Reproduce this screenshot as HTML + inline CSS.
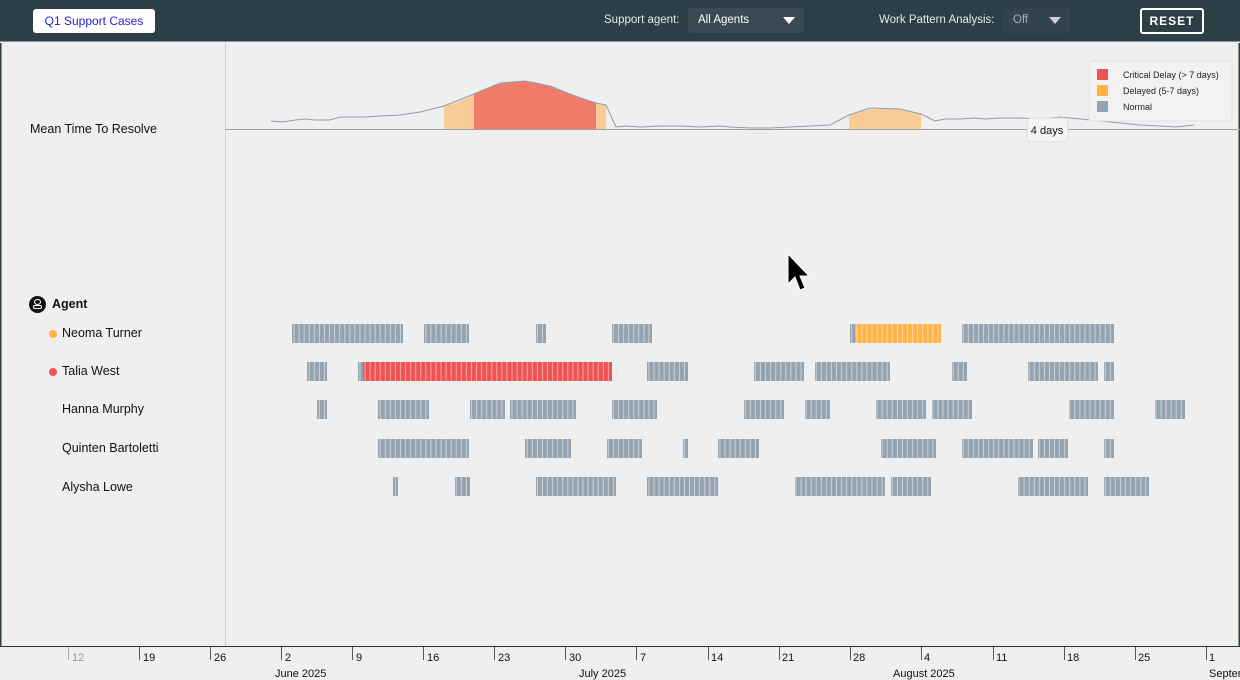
<!DOCTYPE html>
<html><head><meta charset="utf-8"><style>
*{margin:0;padding:0;box-sizing:border-box}
body{width:1240px;height:680px;overflow:hidden;background:#efefef;font-family:"Liberation Sans",sans-serif;position:relative}
.hdr{position:absolute;left:0;top:0;width:1240px;height:42px;background:#2c3e46;border-bottom:1px solid #8a979c}
.btn1{position:absolute;left:33px;top:9px;width:122px;height:24px;background:#fff;border-radius:3px;color:#2222dd;font-size:12px;text-align:center;line-height:24px}
.lbl{position:absolute;top:14px;color:#e6e9ea;font-size:11.5px}
.sel{position:absolute;top:8px;height:25px;background:#3a4a52;border-radius:3px;color:#fff;font-size:11.5px;line-height:25px;padding-left:10px}
.tri{position:absolute;top:9px;width:0;height:0;border-left:6px solid transparent;border-right:6px solid transparent;border-top:7px solid #fff}
.reset{position:absolute;left:1140px;top:8px;width:64px;height:26px;border:2px solid #fff;border-radius:3px;color:#fff;font-weight:bold;font-size:12px;text-align:center;line-height:22px;letter-spacing:1px}
.t{position:absolute;font-size:12.5px;color:#111}
.dot{position:absolute;width:8px;height:8px;border-radius:50%}
svg{position:absolute;left:0;top:0}
</style></head><body>
<div class="hdr">
<div class="btn1">Q1 Support Cases</div>
<div class="lbl" style="left:604px">Support agent:</div>
<div class="sel" style="left:688px;width:116px">All Agents<span class="tri" style="left:95px"></span></div>
<div class="lbl" style="left:879px">Work Pattern Analysis:</div>
<div class="sel" style="left:1003px;width:68px;color:#aab;background:#34444c">Off<span class="tri" style="left:46px;border-top-color:#ccd"></span></div>
<div class="reset">RESET</div>
</div>
<svg width="1240" height="680">
<defs>
<pattern id="g" patternUnits="userSpaceOnUse" width="5.07" height="40"><rect x="0" y="0" width="5.07" height="40" fill="#c8cfd5"/><rect x="0.5" y="0" width="4" height="40" fill="#94a3b0"/></pattern>
<pattern id="r" patternUnits="userSpaceOnUse" width="5.07" height="40"><rect x="0" y="0" width="5.07" height="40" fill="#f5a3a3"/><rect x="0.5" y="0" width="4" height="40" fill="#f05252"/></pattern>
<pattern id="o" patternUnits="userSpaceOnUse" width="5.07" height="40"><rect x="0" y="0" width="5.07" height="40" fill="#fdd6a0"/><rect x="0.5" y="0" width="4" height="40" fill="#ffb347"/></pattern>
</defs>
<rect x="0" y="43" width="1.5" height="603" fill="#2c3e46"/>
<rect x="1238.5" y="43" width="1.5" height="603" fill="#2c3e46"/>
<line x1="225.5" y1="43" x2="225.5" y2="646" stroke="#d0d0d0"/>
<line x1="225" y1="129.5" x2="1240" y2="129.5" stroke="#9aa3a8"/>
<path d="M444,106 C455,103 465,100 474,94 L474,129 L444,129Z" fill="#f7cc95"/>
<path d="M474,94 C495,83 510,81 525,81 C545,82 570,95 596,103 L596,129 L474,129Z" fill="#f07b68"/>
<path d="M596,103 L606,105 L606,129 L596,129Z" fill="#f7cc95"/>
<path d="M849,115 C870,108 885,107 900,109 L921,114 L921,129 L849,129Z" fill="#f7cc95"/>
<polyline fill="none" stroke="#8e9fb0" stroke-width="1" points="271,121 283,122 295,120 305,119 315,120 330,120 340,117 350,117 365,117 380,116 400,115 420,112 444,106 474,94 500,83 525,81 550,86 575,96 596,103 606,105 616,127 625,126 640,127 660,126 680,126 700,127 720,126 730,127 752,128 770,128 790,127 810,126 830,125 849,115 870,108 900,109 921,114 935,121 945,119 960,119 975,118 985,119 1000,118 1020,118 1040,119 1060,117 1080,119 1100,121 1120,123 1140,125 1160,126 1175,127 1185,126 1194,125"/>
<rect x="1089" y="61" width="143" height="60" rx="3" fill="#f2f2f2" stroke="#e2e2e2"/>
<rect x="1097" y="69" width="11" height="11" fill="#f05252"/>
<rect x="1097" y="85" width="11" height="11" fill="#ffb347"/>
<rect x="1097" y="101" width="11" height="11" fill="#94a3b0"/>
<text x="1123" y="78" font-size="9" fill="#222" font-family="Liberation Sans">Critical Delay (&gt; 7 days)</text>
<text x="1123" y="94" font-size="9" fill="#222" font-family="Liberation Sans">Delayed (5-7 days)</text>
<text x="1123" y="110" font-size="9" fill="#222" font-family="Liberation Sans">Normal</text>
<rect x="1027" y="118" width="41" height="24" rx="4" fill="#f4f4f4" stroke="#ddd"/>
<text x="1047" y="134" font-size="11" fill="#111" text-anchor="middle" font-family="Liberation Sans">4 days</text>
<path d="M788,254 L788,284 L795,277 L800,290 L805,288 L800,276 L809,276Z" fill="#000" stroke="#fff" stroke-width="1"/>
<g>
<rect x="292" y="324" width="111" height="19" fill="url(#g)"/>
<rect x="424" y="324" width="45" height="19" fill="url(#g)"/>
<rect x="536" y="324" width="10" height="19" fill="url(#g)"/>
<rect x="612" y="324" width="40" height="19" fill="url(#g)"/>
<rect x="850" y="324" width="5" height="19" fill="url(#g)"/>
<rect x="855" y="324" width="86" height="19" fill="url(#o)"/>
<rect x="962" y="324" width="152" height="19" fill="url(#g)"/>
<rect x="307" y="362" width="20" height="19" fill="url(#g)"/>
<rect x="358" y="362" width="5" height="19" fill="url(#g)"/>
<rect x="363" y="362" width="249" height="19" fill="url(#r)"/>
<rect x="647" y="362" width="41" height="19" fill="url(#g)"/>
<rect x="754" y="362" width="50" height="19" fill="url(#g)"/>
<rect x="815" y="362" width="75" height="19" fill="url(#g)"/>
<rect x="952" y="362" width="15" height="19" fill="url(#g)"/>
<rect x="1028" y="362" width="70" height="19" fill="url(#g)"/>
<rect x="1104" y="362" width="10" height="19" fill="url(#g)"/>
<rect x="317" y="400" width="10" height="19" fill="url(#g)"/>
<rect x="378" y="400" width="51" height="19" fill="url(#g)"/>
<rect x="470" y="400" width="35" height="19" fill="url(#g)"/>
<rect x="510" y="400" width="66" height="19" fill="url(#g)"/>
<rect x="612" y="400" width="45" height="19" fill="url(#g)"/>
<rect x="744" y="400" width="40" height="19" fill="url(#g)"/>
<rect x="805" y="400" width="25" height="19" fill="url(#g)"/>
<rect x="876" y="400" width="50" height="19" fill="url(#g)"/>
<rect x="932" y="400" width="40" height="19" fill="url(#g)"/>
<rect x="1069" y="400" width="45" height="19" fill="url(#g)"/>
<rect x="1155" y="400" width="30" height="19" fill="url(#g)"/>
<rect x="378" y="439" width="91" height="19" fill="url(#g)"/>
<rect x="525" y="439" width="46" height="19" fill="url(#g)"/>
<rect x="607" y="439" width="35" height="19" fill="url(#g)"/>
<rect x="683" y="439" width="5" height="19" fill="url(#g)"/>
<rect x="718" y="439" width="41" height="19" fill="url(#g)"/>
<rect x="881" y="439" width="55" height="19" fill="url(#g)"/>
<rect x="962" y="439" width="71" height="19" fill="url(#g)"/>
<rect x="1038" y="439" width="30" height="19" fill="url(#g)"/>
<rect x="1104" y="439" width="10" height="19" fill="url(#g)"/>
<rect x="393" y="477" width="5" height="19" fill="url(#g)"/>
<rect x="455" y="477" width="15" height="19" fill="url(#g)"/>
<rect x="536" y="477" width="80" height="19" fill="url(#g)"/>
<rect x="647" y="477" width="71" height="19" fill="url(#g)"/>
<rect x="795" y="477" width="90" height="19" fill="url(#g)"/>
<rect x="891" y="477" width="40" height="19" fill="url(#g)"/>
<rect x="1018" y="477" width="70" height="19" fill="url(#g)"/>
<rect x="1104" y="477" width="45" height="19" fill="url(#g)"/>
</g>
<line x1="0" y1="646.5" x2="1240" y2="646.5" stroke="#333"/>
<g stroke="#555" stroke-width="1">
<line x1="68.5" y1="647" x2="68.5" y2="660" stroke="#aaa"/>
<line x1="139.5" y1="647" x2="139.5" y2="660"/><line x1="210.5" y1="647" x2="210.5" y2="660"/>
<line x1="281.5" y1="647" x2="281.5" y2="660"/><line x1="352.5" y1="647" x2="352.5" y2="660"/>
<line x1="423.5" y1="647" x2="423.5" y2="660"/><line x1="494.5" y1="647" x2="494.5" y2="660"/>
<line x1="565.5" y1="647" x2="565.5" y2="660"/><line x1="636.5" y1="647" x2="636.5" y2="660"/>
<line x1="708.5" y1="647" x2="708.5" y2="660"/><line x1="779.5" y1="647" x2="779.5" y2="660"/>
<line x1="850.5" y1="647" x2="850.5" y2="660"/><line x1="921.5" y1="647" x2="921.5" y2="660"/>
<line x1="993.5" y1="647" x2="993.5" y2="660"/><line x1="1064.5" y1="647" x2="1064.5" y2="660"/>
<line x1="1135.5" y1="647" x2="1135.5" y2="660"/><line x1="1206.5" y1="647" x2="1206.5" y2="660"/>
</g>
<g font-family="Liberation Sans" font-size="11" fill="#111">
<text x="72" y="661" fill="#999">12</text><text x="143" y="661">19</text><text x="214" y="661">26</text>
<text x="285" y="661">2</text><text x="356" y="661">9</text><text x="427" y="661">16</text>
<text x="498" y="661">23</text><text x="569" y="661">30</text><text x="640" y="661">7</text>
<text x="711" y="661">14</text><text x="782" y="661">21</text><text x="853" y="661">28</text>
<text x="924" y="661">4</text><text x="996" y="661">11</text><text x="1067" y="661">18</text>
<text x="1138" y="661">25</text><text x="1209" y="661">1</text>
<text x="275" y="677">June 2025</text><text x="579" y="677">July 2025</text>
<text x="893" y="677">August 2025</text><text x="1209" y="677">September</text>
</g>
</svg>
<div class="t" style="left:30px;top:122px">Mean Time To Resolve</div>
<div style="position:absolute;left:29px;top:296px;width:17px;height:17px;border-radius:50%;background:#111"><div style="position:absolute;left:5px;top:3px;width:7px;height:6px;border:1.5px solid #fff;border-radius:50%"></div><div style="position:absolute;left:4px;top:9px;width:9px;height:4px;border:1.5px solid #fff;border-radius:2px"></div></div>
<div class="t" style="left:52px;top:297px;font-weight:bold">Agent</div>
<div class="dot" style="left:49px;top:330px;background:#ffb347"></div>
<div class="t" style="left:62px;top:326px">Neoma Turner</div>
<div class="dot" style="left:49px;top:368px;background:#f05252"></div>
<div class="t" style="left:62px;top:364px">Talia West</div>
<div class="t" style="left:62px;top:402px">Hanna Murphy</div>
<div class="t" style="left:62px;top:441px">Quinten Bartoletti</div>
<div class="t" style="left:62px;top:480px">Alysha Lowe</div>
</body></html>
